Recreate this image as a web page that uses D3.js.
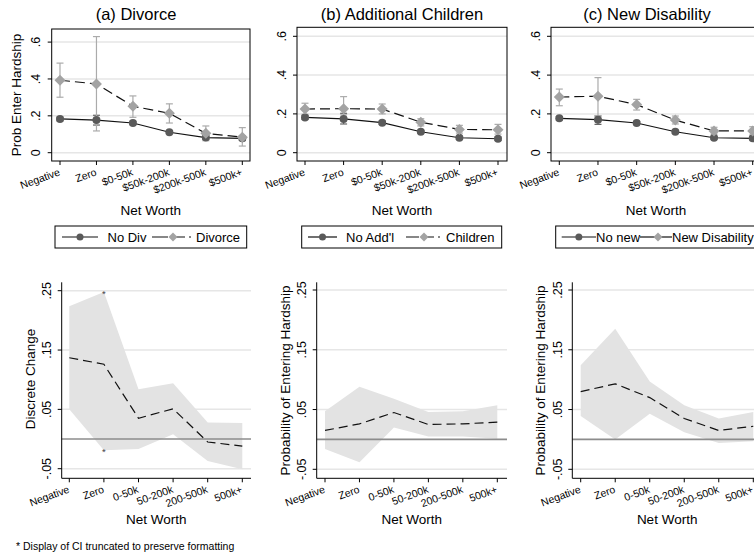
<!DOCTYPE html>
<html><head><meta charset="utf-8">
<script src="https://cdn.jsdelivr.net/npm/d3@7"></script>
<style>body{margin:0;background:#fff;overflow:hidden} svg{display:block;font-family:"Liberation Sans",Arial,sans-serif;}</style>
</head><body><svg id="c" width="754" height="559"></svg>
<script>
// ---------- DATA ----------
const catsTop = ["Negative","Zero","$0-50k","$50k-200k","$200k-500k","$500k+"];
const catsBottom = ["Negative","Zero","0-50k","50-200k","200-500k","500k+"];
const topTicks = [0,0.2,0.4,0.6];
const topTickLabels = ["0",".2",".4",".6"];
const botTicks = [-0.05,0.05,0.15,0.25];
const botTickLabels = ["-.05",".05",".15",".25"];

// (a) Divorce
const noDiv   = [0.183,0.177,0.161,0.111,0.082,0.078];
const noDivLo = [0.173,0.150,0.152,0.104,0.072,0.066];
const noDivHi = [0.193,0.203,0.170,0.118,0.092,0.090];
const divorce   = [0.393,0.373,0.252,0.214,0.105,0.084];
const divorceLo = [0.301,0.118,0.192,0.161,0.065,0.036];
const divorceHi = [0.486,0.630,0.308,0.265,0.145,0.136];
// (b) Additional Children
const noAddl   = [0.182,0.174,0.155,0.108,0.077,0.072];
const noAddlLo = [0.172,0.148,0.147,0.101,0.070,0.063];
const noAddlHi = [0.192,0.203,0.163,0.115,0.084,0.081];
const children   = [0.225,0.227,0.225,0.157,0.120,0.118];
const childrenLo = [0.198,0.195,0.200,0.138,0.101,0.096];
const childrenHi = [0.255,0.289,0.251,0.175,0.141,0.146];
// (c) New Disability
const noNew   = [0.177,0.170,0.153,0.108,0.077,0.074];
const noNewLo = [0.168,0.146,0.145,0.101,0.070,0.066];
const noNewHi = [0.186,0.189,0.161,0.115,0.084,0.082];
const newDis   = [0.287,0.291,0.248,0.168,0.112,0.112];
const newDisLo = [0.242,0.190,0.220,0.148,0.096,0.091];
const newDisHi = [0.328,0.387,0.275,0.189,0.131,0.134];
// Discrete changes (bottom row)
const dcDiv   = [0.137,0.126,0.035,0.051,-0.005,-0.012];
const dcDivLo = [0.050,-0.019,-0.017,0.008,-0.037,-0.051];
const dcDivHi = [0.224,0.248,0.084,0.094,0.028,0.027];
const dcDivTruncated = [1];
const dcChild   = [0.015,0.026,0.045,0.025,0.026,0.029];
const dcChildLo = [-0.016,-0.038,0.020,0.005,0.005,0.001];
const dcChildHi = [0.047,0.088,0.068,0.046,0.047,0.057];
const dcDis   = [0.080,0.093,0.070,0.035,0.015,0.022];
const dcDisLo = [0.039,0.000,0.043,0.012,-0.006,-0.003];
const dcDisHi = [0.124,0.185,0.097,0.057,0.035,0.046];

// ---------- DRAWING ----------
const svg = d3.select("#c");
const C_BASE = "#5a5a5a", C_ALT = "#a3a3a3", C_ALTCI = "#ababab", GRID = "#e6e6e6";

function xLabels(g, x, cats, yAxis) {
  cats.forEach(c => {
    g.append("line").attr("x1", x(c)).attr("x2", x(c)).attr("y1", yAxis).attr("y2", yAxis + 4)
      .attr("stroke", "#000").attr("stroke-width", 1);
    g.append("text").attr("transform", `translate(${x(c) - 1},${yAxis + 9}) rotate(-20)`)
      .attr("text-anchor", "end").attr("font-size", 10.5).attr("dy", "0.5em").text(c);
  });
}
function yLabels(g, y, ticks, labels, xAxis, off, fs) {
  ticks.forEach((t, i) => {
    g.append("line").attr("x1", xAxis - 4).attr("x2", xAxis).attr("y1", y(t)).attr("y2", y(t))
      .attr("stroke", "#000").attr("stroke-width", 1);
    g.append("text").attr("transform", `translate(${xAxis - off},${y(t)}) rotate(-90)`)
      .attr("text-anchor", "middle").attr("font-size", fs).text(labels[i]);
  });
}
function diamond(g, cx, cy, r, fill) {
  g.append("path").attr("d", `M${cx},${cy - r}L${cx + r},${cy}L${cx},${cy + r}L${cx - r},${cy}Z`).attr("fill", fill);
}

function topPanel(p) {
  const g = svg.append("g");
  const x = d3.scalePoint().domain(catsTop).range(p.xr);
  const y = d3.scaleLinear().domain([0, 0.6]).range(p.yr);
  topTicks.forEach(t => g.append("line").attr("x1", p.f[0]).attr("x2", p.f[1]).attr("y1", y(t)).attr("y2", y(t))
    .attr("stroke", GRID).attr("stroke-width", 1.5));
  const ci = (lo, hi, col, w) => catsTop.forEach((c, i) => {
    const cx = x(c);
    g.append("line").attr("x1", cx).attr("x2", cx).attr("y1", y(lo[i])).attr("y2", y(hi[i])).attr("stroke", col).attr("stroke-width", 1.2);
    [lo[i], hi[i]].forEach(v => g.append("line").attr("x1", cx - w).attr("x2", cx + w).attr("y1", y(v)).attr("y2", y(v)).attr("stroke", col).attr("stroke-width", 1.2));
  });
  ci(p.aLo, p.aHi, "#666", 3.5);
  ci(p.bLo, p.bHi, C_ALTCI, 3.5);
  const line = d3.line().x((d, i) => x(catsTop[i])).y(d => y(d));
  g.append("path").attr("d", line(p.a)).attr("fill", "none").attr("stroke", "#111").attr("stroke-width", 1.2);
  g.append("path").attr("d", line(p.b)).attr("fill", "none").attr("stroke", "#111").attr("stroke-width", 1.2).attr("stroke-dasharray", "10,5");
  p.a.forEach((v, i) => g.append("circle").attr("cx", x(catsTop[i])).attr("cy", y(v)).attr("r", 4).attr("fill", C_BASE));
  p.b.forEach((v, i) => diamond(g, x(catsTop[i]), y(v), 5.5, C_ALT));
  g.append("rect").attr("x", p.f[0]).attr("y", p.f[2]).attr("width", p.f[1] - p.f[0]).attr("height", p.f[3] - p.f[2])
    .attr("fill", "none").attr("stroke", "#000").attr("stroke-width", 1);
  yLabels(g, y, topTicks, topTickLabels, p.f[0], 11.5, 12.5);
  xLabels(g, x, catsTop, p.f[3]);
  g.append("text").attr("x", (p.f[0] + p.f[1]) / 2).attr("y", 215).attr("text-anchor", "middle").attr("font-size", 13.5).text("Net Worth");
  g.append("text").attr("x", p.tx).attr("y", 19.5).attr("text-anchor", "middle").attr("font-size", 16.5).text(p.title);
  if (p.ytitle) g.append("text").attr("transform", `translate(${p.ytx},${p.yty}) rotate(-90)`).attr("text-anchor", "middle")
    .attr("font-size", 13.5).text(p.ytitle);
  // legend
  const L = p.leg;
  g.append("rect").attr("x", L.box[0]).attr("y", 226).attr("width", L.box[1] - L.box[0]).attr("height", 22)
    .attr("fill", "#fff").attr("stroke", "#000").attr("stroke-width", 1);
  const ly = 237;
  g.append("line").attr("x1", L.s1[0]).attr("x2", L.s1[1]).attr("y1", ly).attr("y2", ly).attr("stroke", "#111").attr("stroke-width", 1.2);
  g.append("circle").attr("cx", (L.s1[0] + L.s1[1]) / 2).attr("cy", ly).attr("r", 3.5).attr("fill", C_BASE);
  g.append("text").attr("x", L.t1).attr("y", ly + 4.5).attr("font-size", 13).text(L.n1);
  g.append("line").attr("x1", L.s2[0]).attr("x2", L.s2[1]).attr("y1", ly).attr("y2", ly).attr("stroke", "#111").attr("stroke-width", 1.2)
    .attr("stroke-dasharray", L.dash);
  diamond(g, L.d, ly, 4.5, C_ALT);
  g.append("text").attr("x", L.t2).attr("y", ly + 4.5).attr("font-size", 13).text(L.n2);
}

function botPanel(p) {
  const g = svg.append("g");
  const x = d3.scalePoint().domain(catsBottom).range(p.xr);
  const y = d3.scaleLinear().domain([-0.05, 0.25]).range(p.yr);
  botTicks.forEach(t => g.append("line").attr("x1", p.ax).attr("x2", p.right).attr("y1", y(t)).attr("y2", y(t))
    .attr("stroke", GRID).attr("stroke-width", 1.5));
  const area = d3.area().x((d, i) => x(catsBottom[i])).y0((d, i) => y(p.lo[i])).y1((d, i) => y(p.hi[i]));
  g.append("path").attr("d", area(p.v)).attr("fill", "#e3e3e3");
  g.append("line").attr("x1", p.ax).attr("x2", p.right).attr("y1", y(0)).attr("y2", y(0)).attr("stroke", "#8c8c8c").attr("stroke-width", 1.6);
  const line = d3.line().x((d, i) => x(catsBottom[i])).y(d => y(d));
  g.append("path").attr("d", line(p.v)).attr("fill", "none").attr("stroke", "#111").attr("stroke-width", 1.2).attr("stroke-dasharray", "9,5");
  (p.trunc || []).forEach(i => [p.lo[i], p.hi[i]].forEach(v =>
    g.append("text").attr("x", x(catsBottom[i])).attr("y", y(v) + 5).attr("text-anchor", "middle").attr("font-size", 9.5).attr("fill", "#444").text("*")));
  g.append("line").attr("x1", p.ax).attr("x2", p.ax).attr("y1", 282.3).attr("y2", p.base).attr("stroke", "#000");
  g.append("line").attr("x1", p.ax).attr("x2", p.right).attr("y1", p.base).attr("y2", p.base).attr("stroke", "#000");
  yLabels(g, y, botTicks, botTickLabels, p.ax, 10.5, 12.5);
  xLabels(g, x, catsBottom, p.base);
  g.append("text").attr("x", (p.ax + p.right) / 2).attr("y", 524).attr("text-anchor", "middle").attr("font-size", 13.5).text("Net Worth");
  g.append("text").attr("transform", `translate(${p.ytx},${p.yty}) rotate(-90)`).attr("text-anchor", "middle")
    .attr("font-size", 13.5).text(p.ytitle);
}

topPanel({f:[51.7,250,29,161], xr:[60,242.3], yr:[152.7,42.1], a:noDiv, aLo:noDivLo, aHi:noDivHi, b:divorce, bLo:divorceLo, bHi:divorceHi,
  title:"(a) Divorce", tx:136, ytitle:"Prob Enter Hardship", ytx:21, yty:95,
  leg:{box:[55,246.7], s1:[62,98], t1:107.5, n1:"No Div", s2:[152,191], d:173, t2:196, n2:"Divorce", dash:"16,3,14,4,2,30"}});
topPanel({f:[297,507,27.3,161], xr:[305,498], yr:[152.7,36.3], a:noAddl, aLo:noAddlLo, aHi:noAddlHi, b:children, bLo:childrenLo, bHi:childrenHi,
  title:"(b) Additional Children", tx:402,
  leg:{box:[301.7,501.7], s1:[308,337], t1:346, n1:"No Add'l", s2:[406,440], d:424, t2:446, n2:"Children", dash:"13,3,12,4,2,30"}});
topPanel({f:[551,761,27.3,161], xr:[559.3,752.7], yr:[152.7,36.3], a:noNew, aLo:noNewLo, aHi:noNewHi, b:newDis, bLo:newDisLo, bHi:newDisHi,
  title:"(c) New Disability", tx:647,
  leg:{box:[555.7,800], s1:[561.7,596], t1:596, n1:"No new", s2:[640,672], d:658, t2:672, n2:"New Disability", dash:"none"}});

botPanel({ax:61.7, right:251, base:478.3, xr:[69.3,242.3], yr:[468.7,290.7], v:dcDiv, lo:dcDivLo, hi:dcDivHi, trunc:dcDivTruncated,
  ytitle:"Discrete Change", ytx:34.5, yty:379});
botPanel({ax:316.7, right:507, base:478.3, xr:[325,497.3], yr:[469.3,290], v:dcChild, lo:dcChildLo, hi:dcChildHi,
  ytitle:"Probability of Entering Hardship", ytx:290, yty:380.5});
botPanel({ax:572.3, right:762, base:478.3, xr:[580.7,753.3], yr:[469.3,290], v:dcDis, lo:dcDisLo, hi:dcDisHi,
  ytitle:"Probability of Entering Hardship", ytx:545, yty:380.5});

svg.append("text").attr("x", 16).attr("y", 549.5).attr("font-size", 10.5).text("* Display of CI truncated to preserve formatting");
</script></body></html>
